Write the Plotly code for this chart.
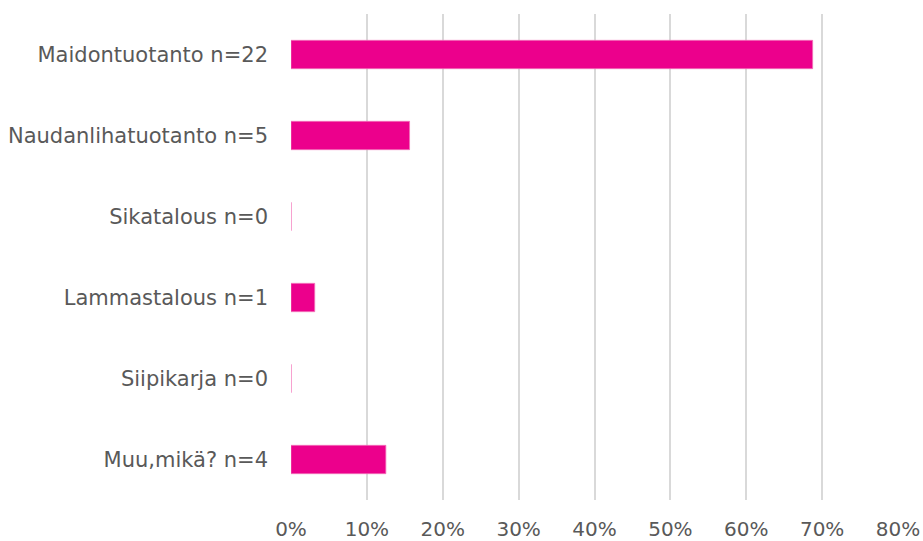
import plotly.graph_objects as go

categories = ["Maidontuotanto n=22", "Naudanlihatuotanto n=5", "Sikatalous n=0",
              "Lammastalous n=1", "Siipikarja n=0", "Muu,mikä? n=4"]
values = [0.6875, 0.15625, 0.0, 0.03125, 0.0, 0.125]
tick_vals = [0, 0.1, 0.2, 0.3, 0.4, 0.5, 0.6, 0.7, 0.8]
tick_text = ["0%", "10%", "20%", "30%", "40%", "50%", "60%", "70%", "80%"]

font_family = "DejaVu Sans, sans-serif"
text_color = "#595959"

fig = go.Figure(go.Bar(
    x=values, y=categories, orientation="h",
    marker=dict(color="#EC008C", line=dict(color="#F36FB8", width=0.8)),
    width=0.35,
))

fig.update_layout(
    width=923, height=541,
    margin=dict(l=291, r=25, t=14, b=41),
    paper_bgcolor="white", plot_bgcolor="white",
    showlegend=False,
    font=dict(family=font_family, size=21, color=text_color),
    xaxis=dict(
        range=[0, 0.8], tickvals=tick_vals, ticktext=tick_text,
        showgrid=True, gridcolor="#D9D9D9", gridwidth=1.6,
        zeroline=False, showline=False, ticks="", automargin=False,
        ticklabelstandoff=15, tickfont=dict(size=20, color=text_color),
    ),
    yaxis=dict(
        autorange="reversed", showgrid=False, zeroline=False, showline=False,
        ticks="", ticklabelstandoff=22, automargin=False,
        tickfont=dict(size=21, color=text_color),
    ),
)

fig.write_html("out.html", config={"displayModeBar": False},
               post_script="document.body.style.margin='0';document.body.style.overflow='hidden';")
